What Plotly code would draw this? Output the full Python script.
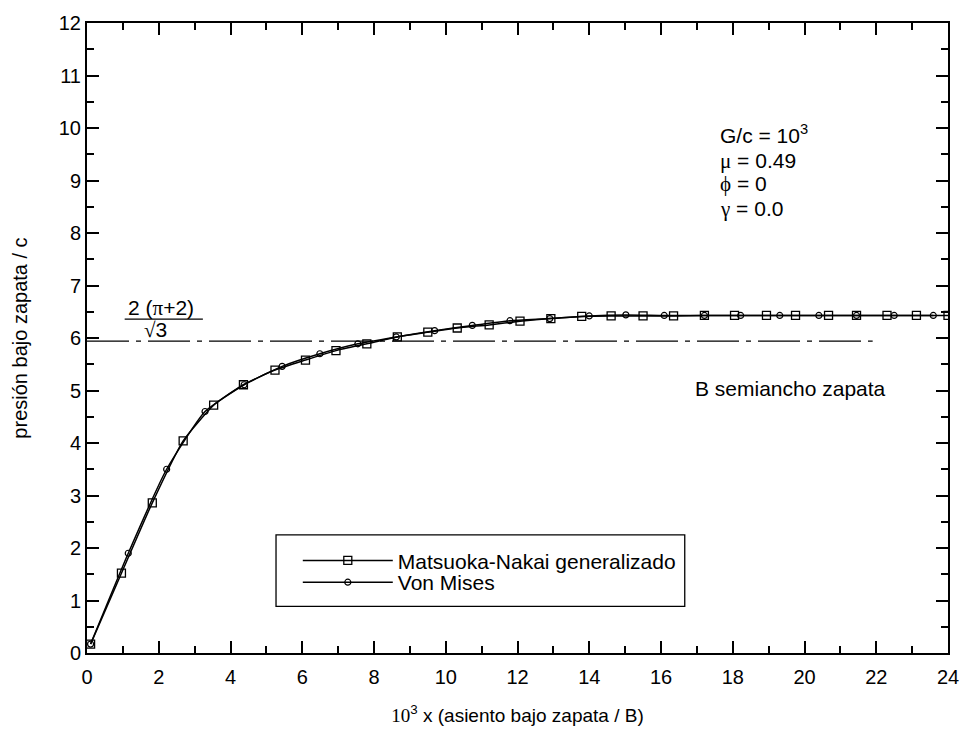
import plotly.graph_objects as go

# Matsuoka-Nakai generalizado (squares)
mn_x = [0.10, 0.96, 1.82, 2.68, 3.53, 4.36, 5.24, 6.09, 6.94, 7.80, 8.65, 9.50, 10.32, 11.21,
        12.07, 12.93, 13.79, 14.61, 15.50, 16.35, 17.21, 18.05, 18.94, 19.75, 20.67, 21.45,
        22.30, 23.12, 24.00]
mn_y = [0.17, 1.52, 2.86, 4.04, 4.72, 5.11, 5.39, 5.58, 5.76, 5.89, 6.02, 6.11, 6.19, 6.25,
        6.32, 6.37, 6.41, 6.42, 6.42, 6.42, 6.43, 6.43, 6.43, 6.43, 6.43, 6.43,
        6.43, 6.43, 6.43]

# Von Mises (circles)
vm_x = [0.10, 1.15, 2.22, 3.29, 4.38, 5.44, 6.49, 7.55, 8.62, 9.69, 10.74, 11.79, 12.90,
        14.00, 15.02, 16.09, 17.21, 18.22, 19.31, 20.40, 21.45, 22.50, 23.59]
vm_y = [0.17, 1.90, 3.50, 4.60, 5.11, 5.46, 5.70, 5.89, 6.02, 6.14, 6.24, 6.33, 6.37,
        6.42, 6.44, 6.43, 6.43, 6.43, 6.43, 6.43, 6.43, 6.43, 6.43]

# reference level 2(pi+2)/sqrt(3)
ref_x = [0.0, 21.9]
ref_y = [5.94, 5.94]

x_ticks = [0, 2, 4, 6, 8, 10, 12, 14, 16, 18, 20, 22, 24]
y_ticks = list(range(0, 13))

FONT = "Liberation Sans, Arial, sans-serif"
SERIF = "Liberation Serif, Times New Roman, serif"
TXT = 21

fig = go.Figure()

fig.add_trace(go.Scatter(
    x=ref_x, y=ref_y, mode="lines",
    line=dict(color="black", width=1.3, dash="42px,7px,5px,7px"),
    showlegend=False, hoverinfo="skip"))

fig.add_trace(go.Scatter(
    x=mn_x, y=mn_y, mode="lines+markers", name="Matsuoka-Nakai generalizado",
    line=dict(color="black", width=1.5, shape="spline", smoothing=0.5),
    marker=dict(symbol="square-open", size=8, color="black", line=dict(width=1.3)),
    legend="legend"))

fig.add_trace(go.Scatter(
    x=vm_x, y=vm_y, mode="lines+markers", name="Von Mises",
    line=dict(color="black", width=1.5, shape="spline", smoothing=0.5),
    marker=dict(symbol="circle-open", size=6, color="black", line=dict(width=1.2)),
    legend="legend2"))

axis_common = dict(
    showline=True, linecolor="black", linewidth=2, mirror="ticks",
    ticks="inside", ticklen=12, tickwidth=2, tickcolor="black",
    showgrid=False, zeroline=False,
    tickfont=dict(family=FONT, size=20, color="black"),
)

fig.update_xaxes(
    range=[0, 24], tickvals=x_ticks, ticklabelstandoff=5,
    minor=dict(dtick=1, ticks="inside", ticklen=7, tickwidth=2, tickcolor="black"),
    title=dict(text=f"<span style='font-family:{SERIF}'>10</span><sup>3</sup> x (asiento bajo zapata / B)",
               font=dict(family=FONT, size=19, color="black"), standoff=22),
    **axis_common)
fig.update_yaxes(
    range=[0, 12], tickvals=y_ticks,
    minor=dict(dtick=0.5, ticks="inside", ticklen=7, tickwidth=2, tickcolor="black"),
    title=dict(text="presión bajo zapata / c",
               font=dict(family=FONT, size=20, color="black"), standoff=26),
    **axis_common)

annots = []
# parameters block
param_lines = [
    ("G/c = 10<sup>3</sup>", 9.89),
    (f"<span style='font-family:{SERIF}'>μ</span> = 0.49", 9.37),
    (f"<span style='font-family:{SERIF}'>ϕ</span> = 0", 8.93),
    (f"<span style='font-family:{SERIF}'>γ</span> = 0.0", 8.46),
]
for txt, yy in param_lines:
    annots.append(dict(x=17.6, y=yy, xref="x", yref="y", text=txt, showarrow=False,
                       xanchor="left", yanchor="middle",
                       font=dict(family=FONT, size=TXT, color="black")))
annots.append(dict(x=19.62, y=5.03, xref="x", yref="y", text="B semiancho zapata",
                   showarrow=False, xanchor="center", yanchor="middle",
                   font=dict(family=FONT, size=TXT, color="black")))
annots.append(dict(x=2.06, y=6.57, xref="x", yref="y",
                   text=f"2 (<span style='font-family:{SERIF}'>π</span>+2)",
                   showarrow=False, xanchor="center", yanchor="middle",
                   font=dict(family=FONT, size=TXT, color="black")))
annots.append(dict(x=1.90, y=6.15, xref="x", yref="y",
                   text=f"<span style='font-family:{SERIF}'>√</span>3",
                   showarrow=False, xanchor="center", yanchor="middle",
                   font=dict(family=FONT, size=TXT, color="black")))

shapes = [
    dict(type="line", xref="x", yref="y", x0=1.05, x1=3.23, y0=6.36, y1=6.36,
         line=dict(color="black", width=1.3)),
    dict(type="rect", xref="paper", yref="paper",
         x0=(278 - 87) / 870, x1=(691 - 87) / 870,
         y0=(654 - 607) / 635, y1=(654 - 535) / 635,
         line=dict(color="black", width=1.3), fillcolor="rgba(0,0,0,0)"),
]

legend_common = dict(xanchor="left", yanchor="middle",
                     bgcolor="rgba(0,0,0,0)", borderwidth=0,
                     font=dict(family=FONT, size=TXT, color="black"),
                     itemwidth=90)

fig.update_layout(
    width=971, height=735,
    margin=dict(l=87, r=14, t=19, b=81),
    paper_bgcolor="white", plot_bgcolor="white",
    font=dict(family=FONT, color="black"),
    annotations=annots, shapes=shapes,
    legend=dict(x=(300 - 87) / 870, y=(654 - 561) / 635, **legend_common),
    legend2=dict(x=(300 - 87) / 870, y=(654 - 583) / 635, **legend_common),
)

fig.write_html("out.html")
